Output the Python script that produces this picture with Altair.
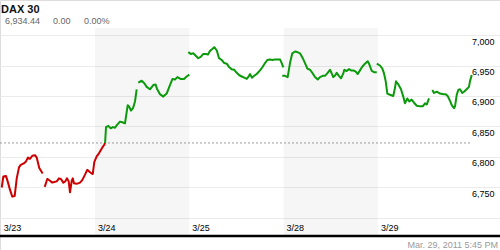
import altair as alt
import pandas as pd

# ---- data ----
DATES = ["3/23", "3/24", "3/25", "3/28", "3/29"]
DAY_POS = [0, 1, 2, 3, 4]
SHADED_START = [1, 3]
SHADED_END = [2, 4]
PREV_CLOSE = 6823
Y_TICKS = [6700, 6750, 6800, 6850, 6900, 6950, 7000]

# time in trading days since 3/23 open, price values
A_T = [0.011, 0.028, 0.056, 0.074, 0.099, 0.123, 0.148, 0.170, 0.194, 0.212,
       0.240, 0.265, 0.290, 0.311, 0.335, 0.364, 0.382, 0.409, 0.445]
A_V = [6750, 6768, 6769, 6760, 6746, 6735, 6736, 6765, 6783, 6787,
       6789, 6792, 6799, 6797, 6802, 6803, 6799, 6782, 6773]

B_T = [0.467, 0.494, 0.523, 0.547, 0.568, 0.594, 0.618, 0.639, 0.664, 0.685,
       0.703, 0.721, 0.735, 0.753, 0.764, 0.777, 0.806, 0.841, 0.865, 0.894,
       0.918, 0.947, 0.976, 0.993, 1.018, 1.042, 1.064, 1.088, 1.098, 1.107]
B_V = [6751, 6764, 6761, 6758, 6759, 6760, 6765, 6764, 6758, 6760,
       6765, 6760, 6742, 6761, 6765, 6757, 6756, 6758, 6762, 6771,
       6779, 6775, 6772, 6792, 6801, 6806, 6812, 6818, 6820, 6823]

C_T = [1.107, 1.117, 1.141, 1.166, 1.188, 1.212, 1.236, 1.265, 1.290, 1.318,
       1.347, 1.361, 1.382, 1.403, 1.424, 1.442]
C_V = [6823, 6849, 6851, 6847, 6849, 6848, 6853, 6858, 6857, 6855,
       6885, 6883, 6876, 6880, 6891, 6911]

D_T = [1.459, 1.495, 1.523, 1.548, 1.583, 1.618, 1.642, 1.657, 1.689, 1.724,
       1.760, 1.795, 1.822, 1.848, 1.874, 1.906, 1.944, 1.972, 2.000]
D_V = [6922, 6925, 6921, 6915, 6911, 6918, 6919, 6912, 6903, 6899,
       6904, 6918, 6928, 6927, 6931, 6928, 6928, 6932, 6935]

E_T = [1.989, 2.015, 2.042, 2.068, 2.095, 2.121, 2.149, 2.174, 2.198, 2.220,
       2.244, 2.265, 2.291, 2.315, 2.344, 2.371, 2.397, 2.424, 2.449, 2.477,
       2.503, 2.530, 2.556, 2.583, 2.609, 2.630, 2.644, 2.665, 2.686, 2.715,
       2.750, 2.779, 2.803, 2.827, 2.856, 2.884, 2.909, 2.933, 2.962, 2.980,
       2.997]
E_V = [6972, 6969, 6970, 6966, 6962, 6964, 6969, 6969, 6968, 6974,
       6977, 6980, 6975, 6962, 6959, 6954, 6953, 6947, 6944, 6943,
       6938, 6934, 6932, 6930, 6928, 6932, 6936, 6930, 6933, 6936,
       6942, 6948, 6954, 6959, 6960, 6959, 6960, 6960, 6960, 6954,
       6947]

F_T = [2.986, 3.015, 3.043, 3.068, 3.092, 3.121, 3.145, 3.174, 3.203, 3.227,
       3.252, 3.280, 3.309, 3.333, 3.362, 3.386, 3.415, 3.439, 3.463, 3.492,
       3.510, 3.527, 3.548, 3.563, 3.587, 3.609, 3.633, 3.644, 3.669, 3.694,
       3.715, 3.739, 3.765, 3.786, 3.810, 3.834, 3.863, 3.892, 3.909, 3.935,
       3.959, 3.988]
F_V = [6933, 6933, 6931, 6954, 6970, 6973, 6972, 6970, 6962, 6954,
       6945, 6943, 6937, 6931, 6927, 6931, 6933, 6933, 6937, 6943,
       6937, 6931, 6934, 6938, 6933, 6929, 6937, 6943, 6941, 6944,
       6942, 6942, 6940, 6936, 6942, 6948, 6953, 6957, 6952, 6941,
       6939, 6939]

G_T = [3.988, 4.022, 4.047, 4.065, 4.083, 4.100, 4.128, 4.163, 4.181, 4.192,
       4.217, 4.245, 4.269, 4.287, 4.312, 4.333, 4.358, 4.383, 4.412, 4.447,
       4.475, 4.500, 4.518, 4.542]
G_V = [6953, 6950, 6945, 6937, 6924, 6904, 6902, 6900, 6913, 6924,
       6919, 6911, 6899, 6888, 6896, 6891, 6894, 6889, 6884, 6883,
       6883, 6888, 6886, 6896]

H_T = [4.577, 4.595, 4.624, 4.659, 4.694, 4.719, 4.740, 4.765, 4.783, 4.807,
       4.818, 4.836, 4.853, 4.871, 4.895, 4.913, 4.941, 4.966, 4.976, 4.995]
H_V = [6910, 6905, 6907, 6904, 6903, 6903, 6900, 6892, 6885, 6880,
       6883, 6902, 6910, 6911, 6905, 6907, 6911, 6915, 6924, 6934.44]

SEGMENTS = [("A", "down", A_T, A_V), ("B", "down", B_T, B_V),
            ("C", "up", C_T, C_V), ("D", "up", D_T, D_V),
            ("E", "up", E_T, E_V), ("F", "up", F_T, F_V),
            ("G", "up", G_T, G_V), ("H", "up", H_T, H_V)]

rows = []
for seg, trend, ts, vs in SEGMENTS:
    for t, v in zip(ts, vs):
        rows.append({"t": t, "v": v, "seg": seg, "trend": trend})
df = pd.DataFrame(rows)

bands = pd.DataFrame({"t": SHADED_START, "t2": SHADED_END})
ref = pd.DataFrame({"v": [PREV_CLOSE]})
one = pd.DataFrame({"k": [0]})

FONT = "Liberation Sans"

x_scale = alt.Scale(domain=[-0.0074, 5.2948], nice=False, zero=False)
y_scale = alt.Scale(domain=[6647.5, 7057.4], nice=False, zero=False)

date_expr = "[" + ",".join("'%s'" % d for d in DATES) + "][round(datum.value)]"
x_axis = alt.Axis(values=DAY_POS, labelExpr=date_expr, grid=False, domain=False,
                  ticks=False, tickSize=0, orient="bottom", labelAlign="left",
                  labelBaseline="middle", labelPadding=-22.5, labelOffset=2.5,
                  labelFlush=False, labelFont=FONT, labelFontSize=9,
                  labelColor="#000000", title="")
y_axis = alt.Axis(values=Y_TICKS, orient="right", grid=True, gridColor="#ebebeb",
                  domain=False, ticks=False, tickSize=0, labelAlign="right",
                  labelBaseline="middle", labelPadding=-6, labelOffset=6,
                  labelExpr="datum.value < 6725 ? '' : format(datum.value, ',')",
                  labelFont=FONT, labelFontSize=9, labelColor="#000000", title="")

shade = alt.Chart(bands).mark_rect(color="#000000", opacity=0.035).encode(
    x=alt.X("t:Q", scale=x_scale, axis=x_axis),
    x2="t2:Q",
    y=alt.value(28), y2=alt.value(235))

refline = alt.Chart(ref).mark_rule(color="#9a9a9a", strokeDash=[2, 2], strokeWidth=1).encode(
    y=alt.Y("v:Q", scale=y_scale, axis=y_axis),
    x=alt.value(0), x2=alt.value(470))

lines = alt.Chart(df).mark_line(strokeWidth=2, strokeJoin="round").encode(
    x=alt.X("t:Q", scale=x_scale, axis=x_axis),
    y=alt.Y("v:Q", scale=y_scale, axis=y_axis),
    color=alt.Color("trend:N", scale=alt.Scale(domain=["down", "up"],
                                               range=["#cc0000", "#0b9a0b"]),
                    legend=None),
    detail="seg:N")

baseline = alt.Chart(one).mark_rule(color="#000000", strokeWidth=2.5).encode(
    x=alt.value(0), x2=alt.value(500), y=alt.value(236))

title = alt.Chart(one).mark_text(text="DAX 30", font=FONT, fontSize=11, fontWeight="bold",
                                 align="left", baseline="alphabetic", color="#111111").encode(
    x=alt.value(1), y=alt.value(13))
sub1 = alt.Chart(one).mark_text(text="6,934.44", font=FONT, fontSize=9, align="left",
                                baseline="alphabetic", color="#666666").encode(
    x=alt.value(5), y=alt.value(23.5))
sub2 = alt.Chart(one).mark_text(text="0.00", font=FONT, fontSize=9, align="left",
                                baseline="alphabetic", color="#666666").encode(
    x=alt.value(53), y=alt.value(23.5))
sub3 = alt.Chart(one).mark_text(text="0.00%", font=FONT, fontSize=9, align="left",
                                baseline="alphabetic", color="#666666").encode(
    x=alt.value(84), y=alt.value(23.5))
stamp = alt.Chart(one).mark_text(text="Mar. 29, 2011 5:45 PM", font=FONT, fontSize=9,
                                 align="right", baseline="alphabetic", color="#9a9a9a").encode(
    x=alt.value(498), y=alt.value(247.5))

chart = alt.layer(shade, refline, lines, baseline, title, sub1, sub2, sub3, stamp).properties(
    width=500, height=250, padding=0,
    autosize=alt.AutoSizeParams(type="none")
).configure_view(stroke="transparent").configure(background="#ffffff")

chart.save("out.html", embed_options={"renderer": "svg", "actions": False})
